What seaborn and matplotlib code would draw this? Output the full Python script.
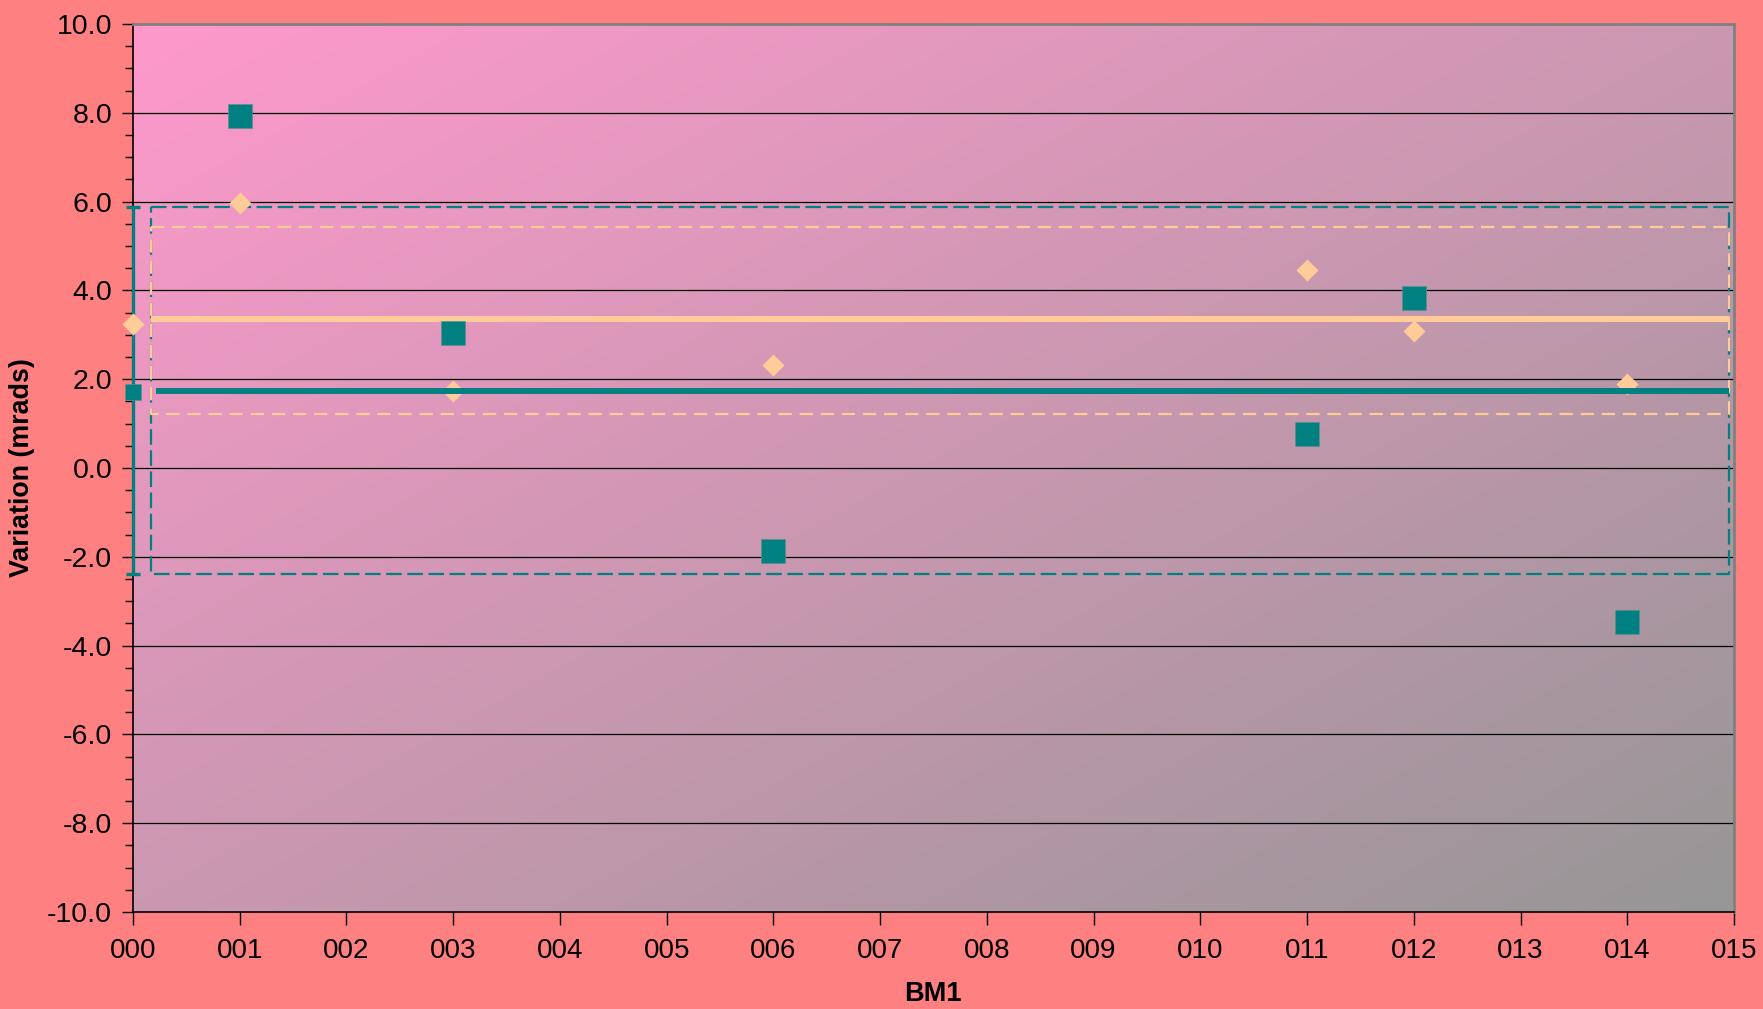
import numpy as np
import matplotlib
matplotlib.use("Agg")
import matplotlib.pyplot as plt
import seaborn as sns
import pandas as pd
from matplotlib.ticker import MultipleLocator, FixedLocator, FormatStrFormatter
from matplotlib.colors import to_rgb

sns.set_style("ticks")
plt.rcParams['font.family'] = ['Liberation Sans', 'DejaVu Sans']
plt.rcParams['text.color'] = 'black'
plt.rcParams['axes.labelcolor'] = 'black'

# ---------------- data ----------------
x_tick_labels = ["000", "001", "002", "003", "004", "005", "006", "007",
                 "008", "009", "010", "011", "012", "013", "014", "015"]
sample_x = [1, 3, 6, 11, 12, 14]
teal_values = [7.93, 3.03, -1.86, 0.76, 3.82, -3.46]
orange_values = [5.96, 1.74, 2.32, 4.46, 3.09, 1.89]

mean_x = [0]
teal_mean = [1.72]
orange_mean = [3.24]

teal_line_level = 1.73
orange_line_level = 3.35
teal_upper, teal_lower = 5.87, -2.39
orange_upper, orange_lower = 5.43, 1.22
band_start, band_end = 0.17, 14.95
teal_line_start = 0.22

y_min, y_max = -10, 10
x_min, x_max = 0, 15

TEAL = "#008080"
ORANGE = "#FFCC99"
FIG_BG = "#FF8080"
GRAD_TL = "#FF99CC"
GRAD_BR = "#969696"

# ---------------- figure ----------------
W, H = 1763, 1009
fig = plt.figure(figsize=(W / 100, H / 100), dpi=100, facecolor=FIG_BG)
ax = fig.add_axes([133 / W, 1 - 912 / H, (1734 - 133) / W, (912 - 24) / H])

# gradient background
n = 300
u = np.linspace(0, 1, n)[None, :]
v = np.linspace(0, 1, n)[:, None]  # 0 at top (imshow origin upper)
t = np.clip((u + v) / 2, 0, 1)
c0 = np.array(to_rgb(GRAD_TL))
c1 = np.array(to_rgb(GRAD_BR))
img = c0[None, None, :] * (1 - t[..., None]) + c1[None, None, :] * t[..., None]
ax.imshow(img, extent=[x_min, x_max, y_min, y_max], aspect="auto",
          origin="upper", zorder=0, interpolation="bilinear")
ax.set_facecolor(GRAD_TL)

# gridlines
for yv in np.arange(y_min + 2, y_max, 2):
    ax.axhline(yv, color="black", lw=0.9, zorder=1)

df_teal = pd.DataFrame({"x": sample_x, "y": teal_values})
df_orange = pd.DataFrame({"x": sample_x, "y": orange_values})
df_teal_mean = pd.DataFrame({"x": mean_x, "y": teal_mean})
df_orange_mean = pd.DataFrame({"x": mean_x, "y": orange_mean})

# dashed bands
ax.plot([band_start, band_end, band_end, band_start, band_start],
        [teal_upper, teal_upper, teal_lower, teal_lower, teal_upper],
        color=TEAL, lw=1.6, dashes=(7, 2.5), zorder=2)
ax.plot([band_start, band_end, band_end, band_start, band_start],
        [orange_upper, orange_upper, orange_lower, orange_lower, orange_upper],
        color=ORANGE, lw=1.6, dashes=(6, 3.5), zorder=2)

# diamonds
sns.scatterplot(data=df_orange, x="x", y="y", marker="D", s=125, color=ORANGE,
                edgecolor=ORANGE, linewidth=0, ax=ax, zorder=3, clip_on=False)

# mean lines
ax.hlines(orange_line_level, band_start, band_end, color=ORANGE, lw=4.3, zorder=4)
ax.hlines(teal_line_level, teal_line_start, band_end, color=TEAL, lw=4.3, zorder=4)

# squares
sns.scatterplot(data=df_teal, x="x", y="y", marker="s", s=300, color=TEAL,
                edgecolor="#5f8f8f", linewidth=0.5, ax=ax, zorder=5, clip_on=False)

# error bar at x=0 (drawn above the spine)
ax.errorbar(mean_x, teal_mean,
            yerr=[[teal_mean[0] - teal_lower], [teal_upper - teal_mean[0]]],
            fmt="none", ecolor=TEAL, elinewidth=2.4, capsize=5, capthick=2.4,
            zorder=7, clip_on=False)
sns.scatterplot(data=df_orange_mean, x="x", y="y", marker="D", s=125, color=ORANGE,
                edgecolor=ORANGE, linewidth=0, ax=ax, zorder=8, clip_on=False)
sns.scatterplot(data=df_teal_mean, x="x", y="y", marker="s", s=130, color=TEAL,
                edgecolor="#5f8f8f", linewidth=0.5, ax=ax, zorder=8, clip_on=False)

# axes
ax.set_xlim(x_min, x_max)
ax.set_ylim(y_min, y_max)
ax.xaxis.set_major_locator(FixedLocator(range(len(x_tick_labels))))
ax.set_xticklabels(x_tick_labels)
ax.yaxis.set_major_locator(MultipleLocator(2))
ax.yaxis.set_minor_locator(MultipleLocator(0.5))
ax.yaxis.set_major_formatter(FormatStrFormatter("%.1f"))

ax.tick_params(axis="y", which="major", direction="out", length=8, width=1,
               color="black", labelsize=20.5, pad=7, labelcolor="black")
ax.tick_params(axis="y", which="minor", direction="out", length=6, width=1,
               color="black")
ax.tick_params(axis="x", which="major", direction="out", length=9, width=1,
               color="black", labelsize=20, pad=10, labelcolor="black")

for side in ["left", "bottom"]:
    ax.spines[side].set_color("black")
    ax.spines[side].set_linewidth(1.2)
for side in ["top", "right"]:
    ax.spines[side].set_color("#808080")
    ax.spines[side].set_linewidth(2)
for s in ax.spines.values():
    s.set_zorder(6)

ax.set_ylabel("Variation (mrads)", fontsize=19.3, fontweight="bold", va="center",
              color="black")
ax.yaxis.set_label_coords(-0.0693, 0.5)
ax.set_xlabel("BM1", fontsize=19.5, fontweight="bold", va="center", color="black")
ax.xaxis.set_label_coords(0.4997, -0.0923)

legend = ax.get_legend()
if legend is not None:
    legend.remove()

fig.savefig("out.png", dpi=100, facecolor=FIG_BG)
